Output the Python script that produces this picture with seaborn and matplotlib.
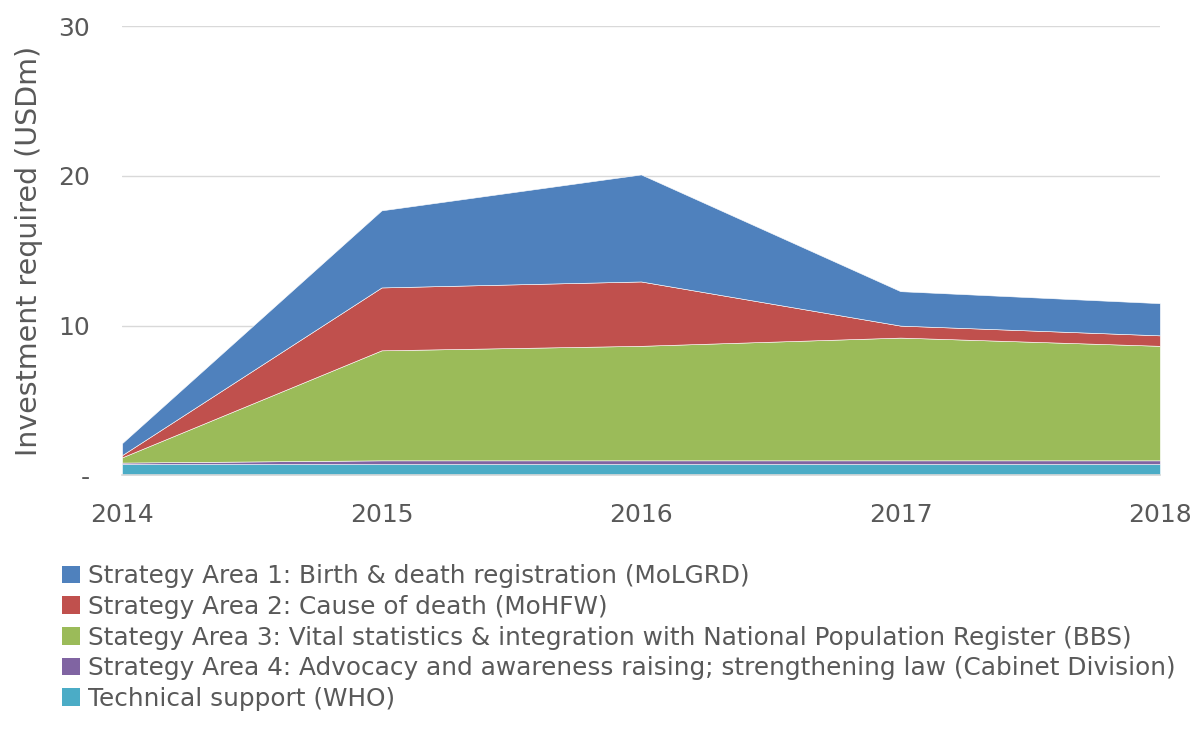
import numpy as np
import pandas as pd
import seaborn as sns
import matplotlib.pyplot as plt
from matplotlib.patches import Patch

# ---------- data (USD millions) ----------
years = [2014, 2015, 2016, 2017, 2018]
technical_support = [0.75, 0.75, 0.75, 0.75, 0.75]
advocacy = [0.10, 0.25, 0.25, 0.25, 0.25]
vital_stats = [0.35, 7.35, 7.65, 8.20, 7.65]
cause_of_death = [0.15, 4.20, 4.30, 0.80, 0.70]
birth_death_reg = [0.80, 5.15, 7.15, 2.30, 2.15]

labels = [
    "Strategy Area 1: Birth & death registration (MoLGRD)",
    "Strategy Area 2: Cause of death (MoHFW)",
    "Stategy Area 3: Vital statistics & integration with National Population Register (BBS)",
    "Strategy Area 4: Advocacy and awareness raising; strengthening law (Cabinet Division)",
    "Technical support (WHO)",
]
colors = ["#4F81BD", "#C0504D", "#9BBB59", "#8064A2", "#4BACC6"]

df = pd.DataFrame({
    "Year": years,
    labels[4]: technical_support,
    labels[3]: advocacy,
    labels[2]: vital_stats,
    labels[1]: cause_of_death,
    labels[0]: birth_death_reg,
})

# ---------- plot ----------
sns.set_theme(style="white")
plt.rcParams["font.family"] = ["DejaVu Sans"]
grey = "#595959"

fig = plt.figure(figsize=(11.97, 7.29), dpi=100)
ax = fig.add_axes([0.102, 0.348, 0.867, 0.616])

stack_order = labels[::-1]  # bottom to top
ax.stackplot(df["Year"], [df[c] for c in stack_order],
             colors=colors[::-1], edgecolor="white", linewidth=0.4)

ax.set_xlim(2014, 2018)
ax.set_ylim(0, 30)
ax.set_xticks(years)
ax.set_yticks([0, 10, 20, 30])
ax.set_yticklabels(["-", "10", "20", "30"])
ax.yaxis.grid(True, color="#D9D9D9", linewidth=1)
ax.set_axisbelow(True)
sns.despine(ax=ax, left=True)
ax.spines["bottom"].set_color("#D9D9D9")
ax.spines["bottom"].set_linewidth(1.2)
ax.tick_params(axis="x", colors="#D9D9D9", direction="out", length=7, width=1.2,
               labelcolor=grey, labelsize=18, pad=13)
ax.tick_params(axis="y", length=0, labelcolor=grey, labelsize=18, pad=23)
ax.set_ylabel("Investment required (USDm)", fontsize=20.5, color=grey, labelpad=11)

handles = [Patch(facecolor=c, edgecolor="none") for c in colors]
fig.legend(handles, labels, loc="upper left", bbox_to_anchor=(0.052, 0.226),
           frameon=False, fontsize=17.8, labelcolor=grey, handlelength=0.72,
           handleheight=0.72, handletextpad=0.32, labelspacing=0.27,
           borderaxespad=0, borderpad=0)

fig.savefig("out.png", dpi=100)
